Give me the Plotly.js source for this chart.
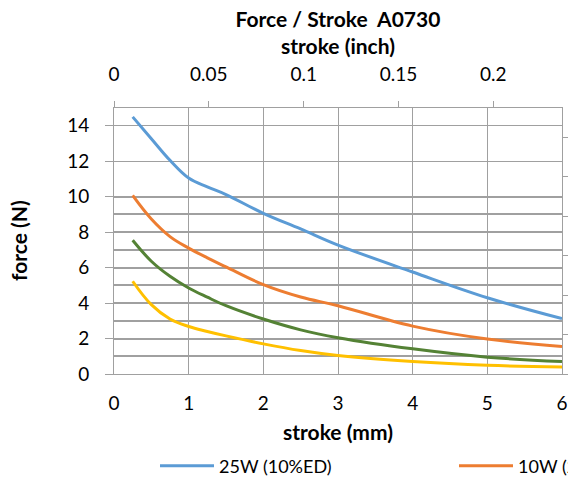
<!DOCTYPE html>
<html>
<head>
<meta charset="utf-8">
<script src="https://cdn.plot.ly/plotly-3.0.1.min.js"></script>
<style>
html,body{margin:0;padding:0;overflow:hidden;background:#fff;}
#chart{width:1600px;height:477px;}
</style>
</head>
<body>
<div id="chart"></div>
<script>
// Data (stroke in mm, force in N)
var strokeMm = [0.25, 0.5, 0.75, 1, 1.25, 1.5, 2, 2.5, 3, 4, 5, 6];
var force25W = [14.5, 13.27, 12.05, 11.05, 10.55, 10.12, 9.06, 8.18, 7.27, 5.75, 4.3, 3.12];
var force10W = [10.07, 8.74, 7.75, 7.1, 6.55, 6.04, 5.04, 4.34, 3.85, 2.7, 1.97, 1.55];
var force5W  = [7.54, 6.36, 5.51, 4.85, 4.33, 3.85, 3.1, 2.49, 2.05, 1.42, 0.95, 0.7];
var force25  = [5.23, 3.91, 3.1, 2.68, 2.4, 2.15, 1.7, 1.32, 1.04, 0.7, 0.49, 0.4];
var seriesNames = ["25W (10%ED)", "10W (25%ED)", "5W (50%ED)", "2.5W (100%ED)"];
var seriesColors = ["#5B9BD5", "#ED7D31", "#548235", "#FFC000"];
var inchTicks = [0, 0.05, 0.1, 0.15, 0.2];
var inchTickText = ['0', '0.05', '0.1', '0.15', '0.2'];
var forceTicks = [0, 2, 4, 6, 8, 10, 12, 14];
var forceMinorTicks = [0, 1, 2, 3, 4, 5, 6, 7, 8, 9, 10];
var lbfTicks = [0, 0.5, 1, 1.5, 2, 2.5, 3];

var xMax = 6, yMax = 15;
var MM_PER_INCH = 25.4, N_PER_LBF = 4.448;

var legendIds = ['legend', 'legend2', 'legend3', 'legend4'];
var allForces = [force25W, force10W, force5W, force25];
var traces = allForces.map(function (f, i) {
  return {
    x: strokeMm, y: f, name: seriesNames[i], type: 'scatter', mode: 'lines',
    line: {color: seriesColors[i], width: 3, shape: 'spline', smoothing: 1.1},
    xaxis: 'x', yaxis: 'y', hoverinfo: 'x+y', legend: legendIds[i]
  };
});
// invisible helper traces to activate secondary axes
traces.push({x: [0], y: [0], xaxis: 'x2', yaxis: 'y', showlegend: false, mode: 'markers', marker: {opacity: 0}, hoverinfo: 'skip'});
traces.push({x: [0], y: [0], xaxis: 'x', yaxis: 'y2', showlegend: false, mode: 'markers', marker: {opacity: 0}, hoverinfo: 'skip'});

var font = "Lato, 'Open Sans', sans-serif";
var gridC = '#a0a0a0';
var W = 1600, H = 477;
var legendStep = 299;

var layout = {
  width: W, height: H,
  margin: {l: 114, r: W - 562, t: 108, b: 103},
  paper_bgcolor: '#fff', plot_bgcolor: '#fff',
  font: {family: font, size: 19, color: '#000'},
  title: {text: '<b>Force / Stroke  A0730</b>', x: 0.5, xref: 'paper', xanchor: 'center',
          y: 1 - 20 / H, yref: 'container', yanchor: 'middle',
          font: {family: font, size: 21, color: '#000'}},
  showlegend: true,
  xaxis: {
    range: [0, xMax], dtick: 1, tick0: 0,
    showgrid: true, gridcolor: gridC, gridwidth: 1,
    zeroline: false, showline: true, linecolor: gridC, linewidth: 1, mirror: false,
    ticks: '', ticklabelstandoff: 12, automargin: false
  },
  xaxis2: {
    overlaying: 'x', side: 'top', range: [0, xMax / MM_PER_INCH],
    tickvals: inchTicks, ticktext: inchTickText,
    ticks: 'outside', ticklen: 6, tickcolor: gridC, showgrid: false,
    zeroline: false, showline: true, linecolor: gridC, linewidth: 1,
    ticklabelstandoff: 12, automargin: false
  },
  yaxis: {
    range: [0, yMax], tickvals: forceTicks,
    showgrid: true, gridcolor: gridC, gridwidth: 1,
    minor: {tickvals: forceMinorTicks, showgrid: true, gridcolor: gridC, gridwidth: 2, ticks: ''},
    zeroline: false, showline: true, linecolor: gridC, linewidth: 1,
    ticks: 'outside', ticklen: 8, tickcolor: gridC, ticklabelstandoff: 12, automargin: false
  },
  yaxis2: {
    overlaying: 'y', side: 'right', range: [0, yMax / N_PER_LBF],
    tickvals: lbfTicks, showgrid: false, zeroline: false,
    showline: true, linecolor: gridC, linewidth: 1,
    ticks: 'outside', ticklen: 6, tickcolor: gridC, showticklabels: false,
    automargin: false
  },
  annotations: [
    {text: '<b>stroke (mm)</b>', xref: 'paper', yref: 'paper', x: 0.5, y: 0, yshift: -57,
     xanchor: 'center', yanchor: 'middle', showarrow: false, font: {family: font, size: 21}},
    {text: '<b>stroke (inch)</b>', xref: 'paper', yref: 'paper', x: 0.5, y: 1, yshift: 63,
     xanchor: 'center', yanchor: 'middle', showarrow: false, font: {family: font, size: 21}},
    {text: '<b>force (N)</b>', xref: 'paper', yref: 'paper', x: 0, y: 0.5, xshift: -96, textangle: -90,
     xanchor: 'center', yanchor: 'middle', showarrow: false, font: {family: font, size: 21}}
  ]
};
legendIds.forEach(function (id, i) {
  layout[id] = {orientation: 'h', xref: 'container', yref: 'container',
                x: (155 + i * legendStep) / W, xanchor: 'left', y: 11 / H, yanchor: 'middle',
                itemwidth: 54, font: {family: font, size: 18}, bgcolor: 'rgba(0,0,0,0)'};
});

Plotly.newPlot('chart', traces, layout, {displayModeBar: false, staticPlot: true});
</script>
</body>
</html>
